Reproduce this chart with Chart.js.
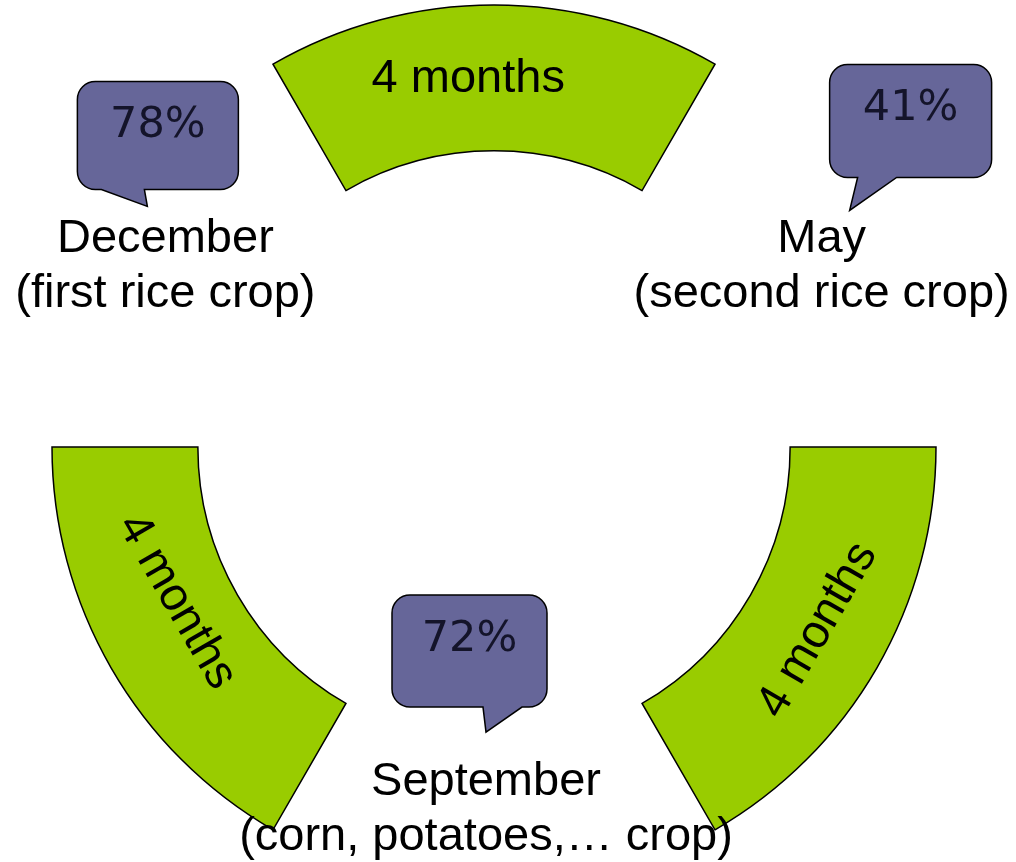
<!DOCTYPE html>
<html>
<head>
<meta charset="utf-8">
<script src="https://cdn.jsdelivr.net/npm/chart.js@4.4.1/dist/chart.umd.min.js"></script>
<style>
  html, body { margin: 0; padding: 0; background: #fff; overflow: hidden; }
  .container { position: relative; width: 1016px; height: 862px; }
</style>
</head>
<body>
<div class="container"><canvas id="chart"></canvas></div>
<script>
// growing periods, drawn as green arcs clockwise from the top
const periodLabels = ['4 months', '4 months', '4 months'];
const periodMonths = [4, 4, 4];

// harvests, sitting in the gap after each period
const harvestMonths = ['May', 'September', 'December'];
const harvestCrops = ['(second rice crop)', '(corn, potatoes,… crop)', '(first rice crop)'];
const harvestShares = [41, 72, 78];

const GAP_SIZE = 4;

const GREEN = '#99cc00';
const BUBBLE = '#666699';
const LABEL_FONT = '47px "Liberation Sans", Arial, sans-serif';
const SHARE_FONT = '43px "DejaVu Sans", Verdana, sans-serif';

// small nudges so captions sit where the original put them
const periodTextNudge = [
  { deg: -4, r: 0 },
  { deg: -0.5, r: 3 },
  { deg: 4, r: -16 },
];

// label offset from gap centre, bubble box [dx, dy, w, h] from label,
// tail [baseLeft, baseRight, tipX, tipY] from bubble bottom-left
const harvestLayout = [
  { label: [8, 0], box: [8, -198, 162, 113], tail: [28, 67, 20, 33] },
  { label: [-8, -11], box: [-94, -210, 155, 112], tail: [91, 130, 94, 25] },
  { label: [-9, 0], box: [-88, -181, 161, 108], tail: [24, 67, 70, 17] },
];

const values = [];
const fills = [];
const borders = [];
const borderWidths = [];
periodMonths.forEach((m) => {
  values.push(m, GAP_SIZE);
  fills.push(GREEN, 'transparent');
  borders.push('#000', 'transparent');
  borderWidths.push(1.5, 0);
});

function drawBubble(ctx, x, y, w, h, tail) {
  const r = 18;
  const [a, b, tx, ty] = tail;
  ctx.beginPath();
  ctx.moveTo(x + r, y);
  ctx.lineTo(x + w - r, y);
  ctx.arcTo(x + w, y, x + w, y + r, r);
  ctx.lineTo(x + w, y + h - r);
  ctx.arcTo(x + w, y + h, x + w - r, y + h, r);
  ctx.lineTo(x + b, y + h);
  ctx.lineTo(x + tx, y + h + ty);
  ctx.lineTo(x + a, y + h);
  ctx.lineTo(x + r, y + h);
  ctx.arcTo(x, y + h, x, y + h - r, r);
  ctx.lineTo(x, y + r);
  ctx.arcTo(x, y, x + r, y, r);
  ctx.closePath();
  ctx.fillStyle = BUBBLE;
  ctx.fill();
  ctx.lineWidth = 1.5;
  ctx.strokeStyle = '#000';
  ctx.stroke();
}

const cycleLabels = {
  id: 'cycleLabels',
  afterDatasetsDraw(chart) {
    const { ctx } = chart;
    const arcs = chart.getDatasetMeta(0).data;
    const props = ['startAngle', 'endAngle', 'innerRadius', 'outerRadius', 'x', 'y'];

    ctx.save();
    ctx.textAlign = 'center';

    periodLabels.forEach((text, i) => {
      const p = arcs[i * 2].getProps(props, true);
      const mid = (p.startAngle + p.endAngle) / 2;
      const nudge = periodTextNudge[i];
      const angle = mid + (nudge.deg * Math.PI) / 180;
      const r = (p.innerRadius + p.outerRadius) / 2 + nudge.r;
      let rot = mid - Math.PI / 2;
      while (rot > Math.PI / 2) rot -= Math.PI;
      while (rot <= -Math.PI / 2) rot += Math.PI;
      ctx.save();
      ctx.translate(p.x + r * Math.cos(angle), p.y + r * Math.sin(angle));
      ctx.rotate(rot);
      ctx.font = LABEL_FONT;
      ctx.fillStyle = '#000';
      ctx.textBaseline = 'middle';
      ctx.fillText(text, 0, 0);
      ctx.restore();
    });

    harvestMonths.forEach((month, i) => {
      const p = arcs[i * 2 + 1].getProps(props, true);
      const mid = (p.startAngle + p.endAngle) / 2;
      const r = (p.innerRadius + p.outerRadius) / 2;
      const lay = harvestLayout[i];
      const ax = p.x + r * Math.cos(mid) + lay.label[0];
      const ay = p.y + r * Math.sin(mid) + lay.label[1];

      const [dx, dy, w, h] = lay.box;
      const bx = ax + dx;
      const by = ay + dy;
      drawBubble(ctx, bx, by, w, h, lay.tail);

      ctx.textBaseline = 'alphabetic';
      ctx.font = SHARE_FONT;
      ctx.fillStyle = '#14142a';
      ctx.fillText(harvestShares[i] + '%', bx + w / 2, by + 56);

      ctx.font = LABEL_FONT;
      ctx.fillStyle = '#000';
      ctx.fillText(month, ax, ay - 10);
      ctx.fillText(harvestCrops[i], ax, ay + 45);
    });

    ctx.restore();
  },
};

new Chart(document.getElementById('chart'), {
  type: 'doughnut',
  data: {
    labels: values.map((v, i) => (i % 2 ? harvestMonths[(i - 1) / 2] : periodLabels[i / 2])),
    datasets: [
      {
        data: values,
        backgroundColor: fills,
        borderColor: borders,
        borderWidth: borderWidths,
        borderJoinStyle: 'miter',
        clip: false,
      },
    ],
  },
  options: {
    responsive: true,
    maintainAspectRatio: false,
    animation: false,
    events: [],
    rotation: -30,
    radius: 442,
    cutout: '67%',
    layout: {
      padding: { left: 0, right: 28, top: 32, bottom: 0 },
    },
    plugins: {
      legend: { display: false },
      tooltip: { enabled: false },
    },
  },
  plugins: [cycleLabels],
});
</script>
</body>
</html>
